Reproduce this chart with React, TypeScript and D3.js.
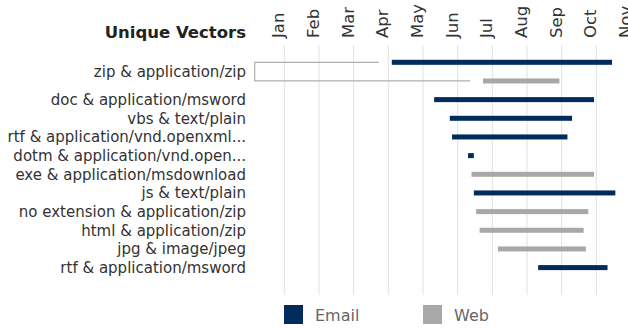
import React, { useEffect, useRef } from "react";
import * as d3 from "d3";

// data
const months = ["Jan", "Feb", "Mar", "Apr", "May", "Jun", "Jul", "Aug", "Sep", "Oct", "Nov"];

const vectors = [
  "zip & application/zip",
  "doc & application/msword",
  "vbs & text/plain",
  "rtf & application/vnd.openxml...",
  "dotm & application/vnd.open...",
  "exe & application/msdownload",
  "js & text/plain",
  "no extension & application/zip",
  "html & application/zip",
  "jpg & image/jpeg",
  "rtf & application/msword",
];

const channels = ["Email", "Web"];

// one entry per bar (zip has both channels)
const barVector = [0, 0, 1, 2, 3, 4, 5, 6, 7, 8, 9, 10];
const barChannel = ["Email", "Web", "Email", "Email", "Email", "Email", "Web", "Email", "Web", "Web", "Web", "Email"];
const barStart = [
  "2019-04-04", "2019-06-23", "2019-05-11", "2019-05-25", "2019-05-27", "2019-06-10",
  "2019-06-13", "2019-06-15", "2019-06-17", "2019-06-20", "2019-07-06", "2019-08-11",
];
const barEnd = [
  "2019-10-15", "2019-08-30", "2019-09-29", "2019-09-10", "2019-09-06", "2019-06-15",
  "2019-09-29", "2019-10-18", "2019-09-24", "2019-09-20", "2019-09-22", "2019-10-11",
];

const colors = { Email: "#002b5c", Web: "#a8a8a8" };
const font = "DejaVu Sans, sans-serif";

// months are drawn evenly spaced, so a date becomes a fractional month index
const monthPos = (s: string) => {
  const d = d3.timeParse("%Y-%m-%d")(s)!;
  const m0 = d3.timeMonth.floor(d);
  const m1 = d3.timeMonth.offset(m0, 1);
  return d.getMonth() + (d.getTime() - m0.getTime()) / (m1.getTime() - m0.getTime());
};

export default function App() {
  const ref = useRef<SVGSVGElement>(null);

  useEffect(() => {
    const svg = d3.select(ref.current);
    svg.selectAll("*").remove();

    const x = d3.scaleLinear().domain([0, 10]).range([284.3, 631]);
    const y = d3.scalePoint<number>().domain(d3.range(barVector.length)).range([62.3, 267.6]);
    const labelX = 246;

    // grid
    svg.append("g")
      .selectAll("line")
      .data(months)
      .join("line")
      .attr("x1", (d, i) => x(i)).attr("x2", (d, i) => x(i))
      .attr("y1", 45).attr("y2", 295)
      .attr("stroke", "#e2e2e2").attr("stroke-width", 1);

    // month labels, rotated, reading upwards from y=38
    svg.append("g")
      .selectAll("text")
      .data(months)
      .join("text")
      .attr("transform", (d, i) => `translate(${x(i)},38) rotate(-90)`)
      .attr("text-anchor", "start")
      .attr("font-family", font).attr("font-size", 16.5)
      .attr("fill", "#333")
      .text(d => d);

    // title
    svg.append("text")
      .attr("x", labelX).attr("y", 38.3)
      .attr("text-anchor", "end")
      .attr("font-family", font).attr("font-size", 16.5).attr("font-weight", "bold")
      .attr("fill", "#222")
      .text("Unique Vectors");

    // row labels: centred on the rows of their bars
    svg.append("g")
      .selectAll("text")
      .data(vectors)
      .join("text")
      .attr("x", labelX)
      .attr("y", (d, vi) => d3.mean(barVector.map((v, i) => [v, i]).filter(p => p[0] === vi), p => y(p[1])!)!)
      .attr("dy", "0.36em")
      .attr("text-anchor", "end")
      .attr("font-family", font).attr("font-size", 15)
      .attr("fill", "#333")
      .text(d => d);

    // bracket for the grouped zip label
    const zipBars = barVector.map((v, i) => i).filter(i => barVector[i] === 0);
    const bx = 254.7;
    const gap = 13;
    const ya = y(zipBars[0])!, yb = y(zipBars[1])!;
    svg.append("path")
      .attr("d", `M${x(monthPos(barStart[zipBars[0]])) - gap},${ya}H${bx}V${yb}H${x(monthPos(barStart[zipBars[1]])) - gap}`)
      .attr("fill", "none")
      .attr("stroke", "#b0b0b0").attr("stroke-width", 1.2);

    // bars
    svg.append("g")
      .selectAll("rect")
      .data(barVector.map((v, i) => i))
      .join("rect")
      .attr("x", i => x(monthPos(barStart[i])))
      .attr("width", i => x(monthPos(barEnd[i])) - x(monthPos(barStart[i])))
      .attr("y", i => y(i)! - 2.5)
      .attr("height", 5)
      .attr("fill", i => colors[barChannel[i] as keyof typeof colors]);

    // legend
    const legendX = d3.scaleOrdinal<string, number>().domain(channels).range([284, 423]);
    const lg = svg.append("g")
      .selectAll("g")
      .data(channels)
      .join("g")
      .attr("transform", d => `translate(${legendX(d)},305)`);
    lg.append("rect")
      .attr("width", 19).attr("height", 19)
      .attr("fill", d => colors[d as keyof typeof colors]);
    lg.append("text")
      .attr("x", 31).attr("y", 15.7)
      .attr("font-family", font).attr("font-size", 16)
      .attr("fill", "#666")
      .text(d => d);
  }, []);

  return (
    <svg ref={ref} width={628} height={329}
         style={{ position: "absolute", left: 0, top: 0, background: "#fff" }} />
  );
}
